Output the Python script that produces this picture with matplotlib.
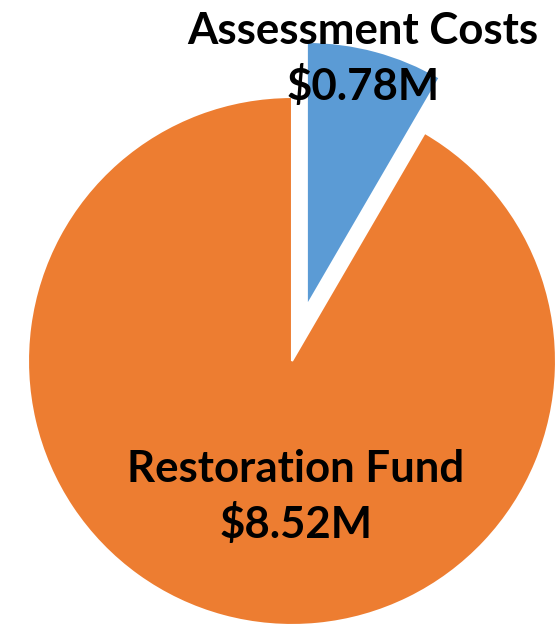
import matplotlib
matplotlib.use("Agg")
import matplotlib.pyplot as plt

# ==========================================================
# Data
# ==========================================================
categories = ["Assessment Costs", "Restoration Fund"]
values = [0.78, 8.52]            # $ millions
colors = ["#5B9BD5", "#ED7D31"]
explode = [57, 0]                # offset in pixels (axes use pixel units)

# ==========================================================
# Figure (axes in pixel coordinates, y measured from bottom)
# ==========================================================
W, H = 559, 625
fig = plt.figure(figsize=(W / 100, H / 100), dpi=100)
ax = fig.add_axes([0, 0, 1, 1])

wedges, _ = ax.pie(
    values,
    colors=colors,
    explode=explode,
    center=(292, H - 361),
    radius=264,
    startangle=90,
    counterclock=False,
    wedgeprops=dict(edgecolor="white", linewidth=1.5),
)

ax.set_xlim(0, W)
ax.set_ylim(0, H)
ax.set_aspect("auto")
ax.axis("off")

# ------------------------------------------------------
# Labels: name on first line, value on second line
# ------------------------------------------------------
label_pos = [(363, 44), (296, 482)]   # (x, baseline y of first line) in pixels
line_gap = 56

for name, val, (x, y) in zip(categories, values, label_pos):
    ax.text(x, H - y, name, ha="center", va="baseline",
            fontsize=31.5, fontweight="bold", family="Lato", color="black")
    ax.text(x, H - y - line_gap, f"${val:.2f}M", ha="center", va="baseline",
            fontsize=31.5, fontweight="bold", family="Lato", color="black")

fig.savefig("out.png", dpi=100)
plt.close(fig)
